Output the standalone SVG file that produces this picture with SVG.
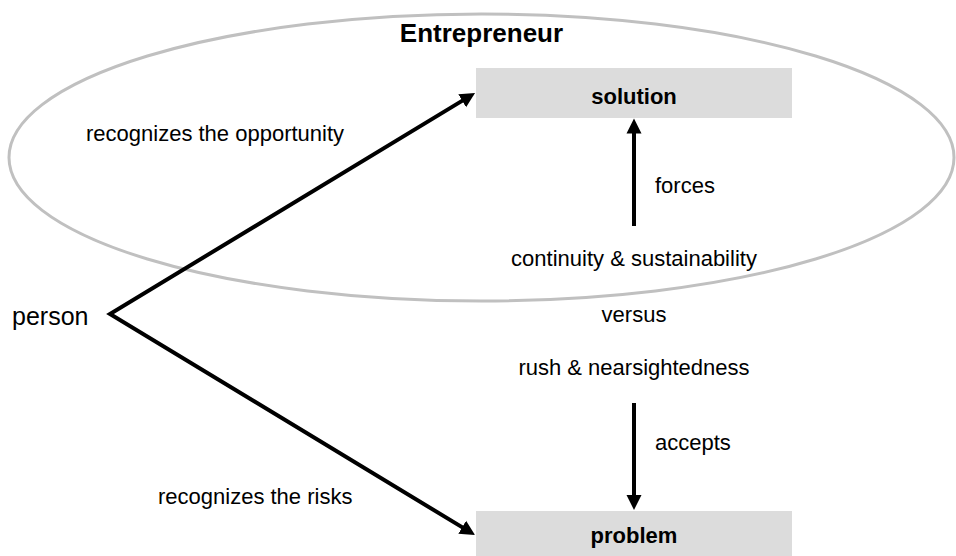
<svg xmlns="http://www.w3.org/2000/svg" width="956" height="556" viewBox="0 0 956 556">
  <style>
    text { font-family: "Liberation Sans", Arial, sans-serif; fill: #000; }
    .lbl { font-size: 22px; }
    .mid { text-anchor: middle; }
    .bold { font-weight: bold; }
    .box { fill: #dcdcdc; stroke: none; }
    .conn { fill: none; stroke: #000; stroke-width: 4; stroke-linejoin: miter; }
  </style>
  <defs>
    <marker id="ah" markerUnits="userSpaceOnUse" markerWidth="17" markerHeight="17" viewBox="0 0 17 17" refX="7" refY="8.5" orient="auto-start-reverse">
      <path d="M0,1 L15,8.5 L0,16 z" fill="#000"/>
    </marker>
  </defs>
  <rect width="956" height="556" fill="#fff"/>
  <g id="entrepreneur">
    <ellipse cx="481.5" cy="157.5" rx="472.5" ry="143.5" fill="none" stroke="#c0c0c0" stroke-width="3"/>
    <text class="bold mid" x="481.5" y="42" font-size="26">Entrepreneur</text>
  </g>
  <g id="solution">
    <rect class="box" x="476" y="68" width="316" height="50"/>
    <text class="lbl bold mid" x="634" y="104" font-size="23">solution</text>
  </g>
  <g id="problem">
    <rect class="box" x="476" y="511" width="316" height="50"/>
    <text class="lbl bold mid" x="634" y="543" font-size="23">problem</text>
  </g>
  <g id="person">
    <text x="12" y="325" font-size="25">person</text>
  </g>
  <g id="continuity">
    <text class="lbl mid" x="634" y="266">continuity &amp; sustainability</text>
  </g>
  <g id="versus">
    <text class="lbl mid" x="634" y="322">versus</text>
  </g>
  <g id="rush">
    <text class="lbl mid" x="634" y="375">rush &amp; nearsightedness</text>
  </g>
  <g id="connectors">
    <path class="conn" d="M468.2,97.1 L110,314 L468.2,530.9" marker-start="url(#ah)" marker-end="url(#ah)"/>
    <path class="conn" d="M634,226 L634,126.5" marker-end="url(#ah)"/>
    <path class="conn" d="M634,403 L634,502" marker-end="url(#ah)"/>
    <text class="lbl" x="86" y="141">recognizes the opportunity</text>
    <text class="lbl" x="158" y="504">recognizes the risks</text>
    <text class="lbl" x="655" y="193">forces</text>
    <text class="lbl" x="655" y="450">accepts</text>
  </g>
</svg>
